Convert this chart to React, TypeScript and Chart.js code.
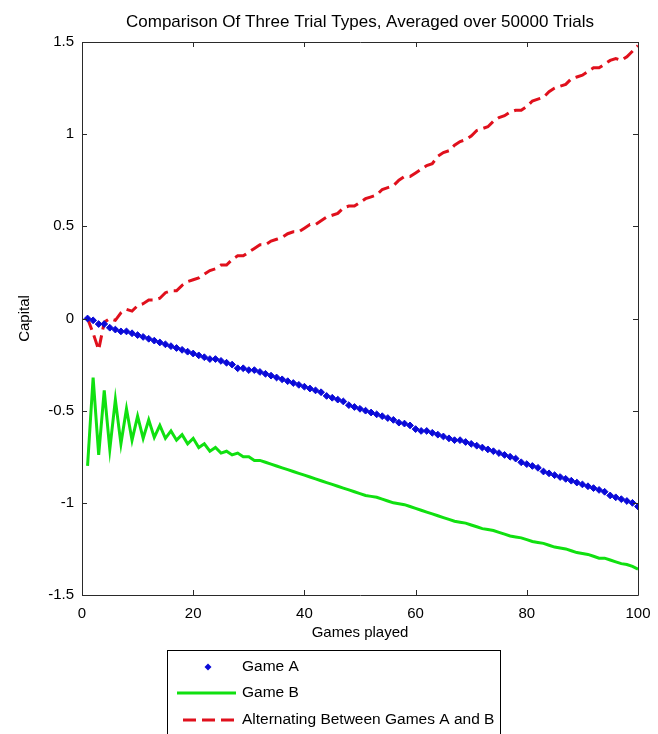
import React, { useEffect, useRef } from "react";
import { Chart, registerables } from "chart.js";

Chart.register(...registerables);

const TITLE = "Comparison Of Three Trial Types, Averaged over 50000 Trials";
const X_LABEL = "Games played";
const Y_LABEL = "Capital";
const LEGEND_LABELS = ["Game A", "Game B", "Alternating Between Games A and B"];
const X_TICKS = [0, 20, 40, 60, 80, 100];
const Y_TICKS = [-1.5, -1, -0.5, 0, 0.5, 1, 1.5];

const gameA = [
  0.0, -0.01, -0.03, -0.03, -0.05, -0.06, -0.07, -0.07, -0.08, -0.09,
  -0.1, -0.11, -0.12, -0.13, -0.14, -0.15, -0.16, -0.17, -0.18, -0.19,
  -0.2, -0.21, -0.22, -0.22, -0.23, -0.24, -0.25, -0.27, -0.27, -0.28,
  -0.28, -0.29, -0.3, -0.31, -0.32, -0.33, -0.34, -0.35, -0.36, -0.37,
  -0.38, -0.39, -0.4, -0.42, -0.43, -0.44, -0.45, -0.47, -0.48, -0.49,
  -0.5, -0.51, -0.52, -0.53, -0.54, -0.55, -0.565, -0.57, -0.58, -0.6,
  -0.61, -0.61, -0.62, -0.63, -0.64, -0.65, -0.66, -0.66, -0.67, -0.68,
  -0.69, -0.7, -0.71, -0.72, -0.73, -0.74, -0.75, -0.76, -0.78, -0.79,
  -0.8, -0.81, -0.83, -0.84, -0.85, -0.86, -0.87, -0.88, -0.89, -0.9,
  -0.91, -0.92, -0.93, -0.94, -0.96, -0.97, -0.98, -0.99, -1.0, -1.02,
];

const gameB = [
  -0.8, -0.32, -0.74, -0.39, -0.71, -0.44, -0.68, -0.49, -0.66, -0.53,
  -0.65, -0.55, -0.645, -0.58, -0.65, -0.61, -0.66, -0.63, -0.68, -0.65,
  -0.7, -0.68, -0.72, -0.7, -0.73, -0.72, -0.74, -0.73, -0.75, -0.75,
  -0.77, -0.77, -0.78, -0.79, -0.8, -0.81, -0.82, -0.83, -0.84, -0.85,
  -0.86, -0.87, -0.88, -0.89, -0.9, -0.91, -0.92, -0.93, -0.94, -0.95,
  -0.96, -0.965, -0.97, -0.98, -0.99, -1.0, -1.005, -1.01, -1.02, -1.03,
  -1.04, -1.05, -1.06, -1.07, -1.08, -1.09, -1.1, -1.105, -1.11, -1.12,
  -1.13, -1.14, -1.145, -1.15, -1.16, -1.17, -1.18, -1.185, -1.19, -1.2,
  -1.21, -1.215, -1.22, -1.23, -1.24, -1.245, -1.25, -1.26, -1.27, -1.275,
  -1.28, -1.29, -1.3, -1.3, -1.31, -1.32, -1.33, -1.335, -1.345, -1.36,
];

const alternating = [
  0.0, -0.08, -0.17, -0.02, 0.0, -0.01, 0.03, 0.05, 0.04, 0.07,
  0.08, 0.1, 0.1, 0.11, 0.14, 0.15, 0.15, 0.18, 0.2, 0.21,
  0.22, 0.24, 0.26, 0.27, 0.29, 0.29, 0.32, 0.34, 0.34, 0.36,
  0.38, 0.4, 0.4, 0.42, 0.43, 0.44, 0.46, 0.47, 0.47, 0.49,
  0.51, 0.51, 0.53, 0.55, 0.56, 0.57, 0.6, 0.61, 0.61, 0.63,
  0.65, 0.66, 0.67, 0.7, 0.71, 0.72, 0.75, 0.77, 0.77, 0.79,
  0.81, 0.83, 0.84, 0.88, 0.9, 0.91, 0.94, 0.96, 0.97, 0.99,
  1.02, 1.03, 1.04, 1.07, 1.09, 1.1, 1.12, 1.13, 1.13, 1.15,
  1.18, 1.19, 1.2, 1.23, 1.25, 1.26, 1.27, 1.3, 1.31, 1.32,
  1.34, 1.36, 1.36, 1.38, 1.4, 1.41, 1.4, 1.42, 1.45, 1.48,
];

const games = gameA.map((_, i) => i + 1);

const BLUE = "#0a0ad8";
const GREEN = "#10e010";
const RED = "#e0101c";
const FONT = "'Liberation Sans', Arial, sans-serif";

const decorPlugin = {
  id: "decor",
  afterDraw(chart: any) {
    const { ctx, chartArea } = chart;
    const { left, right, top, bottom } = chartArea;
    const xs = chart.scales.x;
    const ys = chart.scales.y;
    ctx.save();
    // box
    ctx.strokeStyle = "#2a2a2a";
    ctx.lineWidth = 1;
    ctx.beginPath();
    ctx.rect(Math.round(left) + 0.5, Math.round(top) + 0.5, Math.round(right - left), Math.round(bottom - top));
    ctx.stroke();
    // inward ticks
    const tl = 5;
    ctx.beginPath();
    X_TICKS.forEach((t) => {
      const px = Math.round(xs.getPixelForValue(t)) + 0.5;
      ctx.moveTo(px, bottom);
      ctx.lineTo(px, bottom - tl);
      ctx.moveTo(px, top);
      ctx.lineTo(px, top + tl);
    });
    Y_TICKS.forEach((t) => {
      const py = Math.round(ys.getPixelForValue(t)) + 0.5;
      ctx.moveTo(left, py);
      ctx.lineTo(left + tl, py);
      ctx.moveTo(right, py);
      ctx.lineTo(right - tl, py);
    });
    ctx.stroke();

    // title
    ctx.fillStyle = "#000";
    ctx.font = `17px ${FONT}`;
    ctx.textAlign = "center";
    ctx.textBaseline = "middle";
    ctx.fillText(TITLE, (left + right) / 2, 22);
    // x label
    ctx.font = `15px ${FONT}`;
    ctx.fillText(X_LABEL, (left + right) / 2, 633);
    // y label
    ctx.save();
    ctx.translate(25, (top + bottom) / 2);
    ctx.rotate(-Math.PI / 2);
    ctx.fillText(Y_LABEL, 0, 0);
    ctx.restore();

    // legend
    const lx = 167, ly = 650, lw = 333, lh = 95;
    ctx.fillStyle = "#fff";
    ctx.fillRect(lx, ly, lw, lh);
    ctx.strokeStyle = "#000";
    ctx.lineWidth = 1;
    ctx.strokeRect(lx + 0.5, ly + 0.5, lw, lh);
    const rows = [667, 693, 720];
    const textX = 242;
    // Game A marker
    ctx.fillStyle = BLUE;
    ctx.beginPath();
    const mx = 208, my = rows[0], r = 3.5;
    ctx.moveTo(mx, my - r);
    ctx.lineTo(mx + r, my);
    ctx.lineTo(mx, my + r);
    ctx.lineTo(mx - r, my);
    ctx.closePath();
    ctx.fill();
    // Game B line
    ctx.strokeStyle = GREEN;
    ctx.lineWidth = 3;
    ctx.beginPath();
    ctx.moveTo(177, rows[1]);
    ctx.lineTo(236, rows[1]);
    ctx.stroke();
    // Alternating dashed
    ctx.strokeStyle = RED;
    ctx.setLineDash([13, 6]);
    ctx.beginPath();
    ctx.moveTo(183, rows[2]);
    ctx.lineTo(236, rows[2]);
    ctx.stroke();
    ctx.setLineDash([]);
    ctx.fillStyle = "#000";
    ctx.font = `15.5px ${FONT}`;
    ctx.textAlign = "left";
    ctx.textBaseline = "middle";
    LEGEND_LABELS.forEach((t, i) => ctx.fillText(t, textX, rows[i]));
    ctx.restore();
  },
};

export default function App() {
  const ref = useRef<HTMLCanvasElement | null>(null);
  useEffect(() => {
    if (!ref.current) return;
    Chart.defaults.font.family = FONT;
    Chart.defaults.font.size = 15;
    Chart.defaults.color = "#000";
    const chart = new Chart(ref.current, {
      type: "line",
      data: {
        datasets: [
          {
            label: LEGEND_LABELS[0],
            data: games.map((g, i) => ({ x: g, y: gameA[i] })),
            showLine: false,
            pointStyle: "rectRot",
            pointRadius: 3.4,
            pointBackgroundColor: BLUE,
            pointBorderColor: BLUE,
            pointBorderWidth: 1,
            borderColor: BLUE,
            backgroundColor: BLUE,
          },
          {
            label: LEGEND_LABELS[1],
            data: games.map((g, i) => ({ x: g, y: gameB[i] })),
            borderColor: GREEN,
            borderWidth: 3,
            pointRadius: 0,
            tension: 0,
          },
          {
            label: LEGEND_LABELS[2],
            data: games.map((g, i) => ({ x: g, y: alternating[i] })),
            borderColor: RED,
            borderWidth: 3,
            borderDash: [12, 6],
            pointRadius: 0,
            tension: 0,
          },
        ],
      },
      options: {
        animation: false,
        responsive: false,
        devicePixelRatio: 1,
        layout: { padding: { left: 0, right: 20, top: 42, bottom: 0 } },
        plugins: {
          legend: { display: false },
          title: { display: false },
          tooltip: { enabled: false },
        },
        scales: {
          x: {
            type: "linear",
            min: 0,
            max: 100,
            grid: { display: false, drawTicks: false },
            border: { display: false },
            ticks: {
              stepSize: 20,
              padding: 10,
              maxRotation: 0,
              callback: (v: any) => String(v),
            },
            afterFit: (s: any) => {
              s.height = 139;
              s.paddingLeft = 0;
              s.paddingRight = 0;
            },
          },
          y: {
            type: "linear",
            min: -1.5,
            max: 1.5,
            grid: { display: false, drawTicks: false },
            border: { display: false },
            ticks: {
              stepSize: 0.5,
              padding: 8,
              callback: (v: any) => String(v),
            },
            afterFit: (s: any) => {
              s.width = 82;
              s.paddingTop = 0;
              s.paddingBottom = 0;
            },
          },
        },
      },
      plugins: [decorPlugin],
    });
    return () => chart.destroy();
  }, []);
  return (
    <div style={{ position: "fixed", left: 0, top: 0, width: 658, height: 734, background: "#fff" }}>
      <canvas ref={ref} width={658} height={734} style={{ width: 658, height: 734, display: "block" }} />
    </div>
  );
}
